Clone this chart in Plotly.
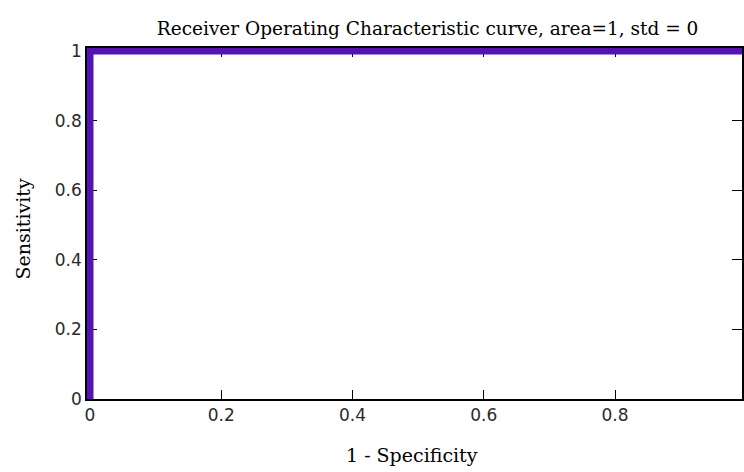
import plotly.graph_objects as go

# ROC curve data
fpr = [0, 0, 1]          # 1 - Specificity
tpr = [0, 1, 1]          # Sensitivity
tick_vals = [0, 0.2, 0.4, 0.6, 0.8, 1]
tick_text = ["0", "0.2", "0.4", "0.6", "0.8", "1"]
title_text = "Receiver Operating Characteristic curve, area=1, std = 0"
x_title = "1 - Specificity"
y_title = "Sensitivity"

fig = go.Figure()
fig.add_trace(go.Scatter(x=fpr, y=tpr, mode="lines",
                         line=dict(color="#5414b4", width=7),
                         showlegend=False))

serif = "DejaVu Serif"
sans = "DejaVu Sans"

# pixel geometry: x=0 at 90px, 658.3 px per unit; y=0 at 399px, 348 px per unit
xpad = 3 / 658.3
ypad = 3 / 348.0

fig.update_layout(
    width=744, height=472,
    margin=dict(l=87, r=0, t=48, b=73),
    paper_bgcolor="white", plot_bgcolor="white",
    title=dict(text=title_text, x=0.52, xref="paper", xanchor="center",
               y=0.94, yref="container", yanchor="middle",
               font=dict(family=serif, size=18.5, color="black")),
    xaxis=dict(range=[-xpad, (744 - 90) / 658.3], tickvals=tick_vals, ticktext=tick_text,
               ticks="inside", ticklen=9, tickcolor="black", tickwidth=1,
               showline=True, linecolor="black", linewidth=1.5, mirror="ticks",
               showgrid=False, zeroline=False, layer="below traces",
               tickfont=dict(family=sans, size=17, color="#2a2a2a")),
    yaxis=dict(range=[0, 1 + ypad], tickvals=tick_vals, ticktext=tick_text,
               ticks="inside", ticklen=10, tickcolor="black", tickwidth=1,
               showline=True, linecolor="black", linewidth=1.5, mirror="ticks",
               showgrid=False, zeroline=False, layer="below traces",
               tickfont=dict(family=sans, size=17, color="#2a2a2a")),
    annotations=[
        dict(text=x_title, xref="paper", yref="paper", x=0.496, y=-0.16,
             xanchor="center", yanchor="middle", showarrow=False,
             font=dict(family=serif, size=19, color="black")),
        dict(text=y_title, xref="paper", yref="paper", x=-0.097, y=0.484,
             xanchor="center", yanchor="middle", showarrow=False, textangle=-90,
             font=dict(family=serif, size=19, color="black")),
    ],
)

fig.write_html("out.html")
